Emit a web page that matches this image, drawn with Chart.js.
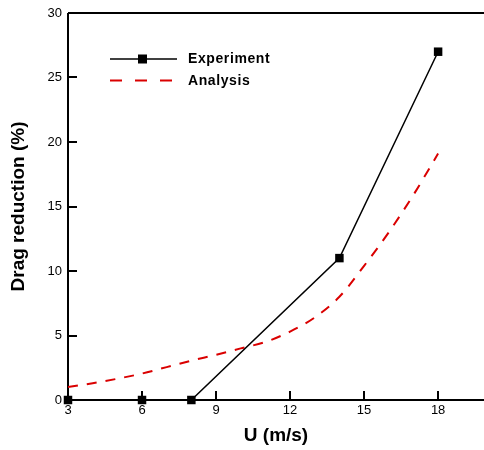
<!DOCTYPE html>
<html>
<head>
<meta charset="utf-8">
<script src="https://cdn.jsdelivr.net/npm/chart.js@4/dist/chart.umd.min.js"></script>
<style>
html,body{margin:0;padding:0;background:#fff;}
#wrap{width:484px;height:450px;position:relative;}
</style>
</head>
<body>
<div id="wrap"><canvas id="c"></canvas></div>
<script>
// Data
const expU = [3, 6, 8, 14, 18];
const expDR = [0, 0, 0, 11, 27];
const anaU = [3, 4, 5, 6, 7, 8, 9, 10, 11, 12, 13, 14, 15, 16, 17, 18];
const anaDR = [1.0, 1.3, 1.65, 2.05, 2.55, 3.05, 3.5, 4.0, 4.5, 5.3, 6.4, 8.0, 10.4, 13.0, 15.9, 19.1];
const xTicks = [3, 6, 9, 12, 15, 18];
const yTicks = [0, 5, 10, 15, 20, 25, 30];
const seriesNames = ['Experiment', 'Analysis'];
const xTitle = 'U (m/s)';
const yTitle = 'Drag reduction (%)';

const RED = 'rgb(218,0,0)';
const FONT = '"Liberation Sans", Arial, sans-serif';

const framePlugin = {
  id: 'frame',
  beforeDatasetsDraw(chart) {
    const {ctx, chartArea: a, scales: {x, y}} = chart;
    ctx.save();
    ctx.strokeStyle = '#000';
    ctx.lineWidth = 2;
    ctx.beginPath();
    ctx.moveTo(a.left, a.top); ctx.lineTo(a.left, a.bottom); ctx.lineTo(a.right, a.bottom);
    ctx.moveTo(a.left, a.top); ctx.lineTo(a.right, a.top);
    ctx.stroke();
    ctx.beginPath();
    yTicks.forEach(v => {
      if (v === 0 || v === 30) return;
      const py = Math.round(y.getPixelForValue(v));
      ctx.moveTo(a.left, py); ctx.lineTo(a.left + 9, py);
    });
    xTicks.forEach(v => {
      if (v === 3) return;
      const px = Math.round(x.getPixelForValue(v));
      ctx.moveTo(px, a.bottom); ctx.lineTo(px, a.bottom - 9);
    });
    ctx.stroke();
    ctx.restore();
  },
  afterDraw(chart) {
    const {ctx} = chart;
    ctx.save();
    // Experiment legend
    ctx.strokeStyle = '#000';
    ctx.lineWidth = 1.5;
    ctx.beginPath(); ctx.moveTo(110, 59); ctx.lineTo(177, 59); ctx.stroke();
    ctx.fillStyle = '#000';
    ctx.fillRect(138, 54.5, 9, 9);
    // Analysis legend
    ctx.strokeStyle = RED;
    ctx.lineWidth = 2;
    ctx.setLineDash([12, 13]);
    ctx.beginPath(); ctx.moveTo(110, 80.5); ctx.lineTo(173, 80.5); ctx.stroke();
    ctx.setLineDash([]);
    ctx.fillStyle = '#000';
    ctx.font = 'bold 14px ' + FONT;
    ctx.textBaseline = 'middle';
    ctx.textAlign = 'left';
    try { ctx.letterSpacing = '0.6px'; } catch(e) {}
    ctx.fillText(seriesNames[0], 188, 59);
    ctx.fillText(seriesNames[1], 188, 81);
    ctx.restore();
  }
};

new Chart(document.getElementById('c'), {
  type: 'scatter',
  data: {
    datasets: [
      {
        label: seriesNames[0],
        data: expU.map((u, i) => ({x: u, y: expDR[i]})),
        showLine: true,
        borderColor: '#000',
        backgroundColor: '#000',
        borderWidth: 1.5,
        pointStyle: 'rect',
        pointRadius: 6,
        pointBorderWidth: 0,
        pointBackgroundColor: '#000',
        clip: false,
        tension: 0
      },
      {
        label: seriesNames[1],
        data: anaU.map((u, i) => ({x: u, y: anaDR[i]})),
        showLine: true,
        borderColor: RED,
        borderWidth: 2,
        borderDash: [10, 9],
        pointRadius: 0,
        cubicInterpolationMode: 'monotone',
        clip: false
      }
    ]
  },
  options: {
    responsive: true,
    maintainAspectRatio: false,
    animation: false,
    devicePixelRatio: 1,
    layout: {autoPadding: false, padding: {top: 13, right: 0, left: 0, bottom: 0}},
    plugins: {legend: {display: false}, tooltip: {enabled: false}},
    scales: {
      x: {
        type: 'linear',
        min: 3,
        max: 19.86,
        afterFit(s) { s.height = 50; s.paddingLeft = 0; s.paddingRight = 0; },
        afterBuildTicks(s) { s.ticks = xTicks.map(v => ({value: v})); },
        grid: {display: false, drawTicks: false},
        border: {display: false},
        ticks: {color: '#000', font: {family: FONT, size: 13}, padding: 3, maxRotation: 0, autoSkip: false},
        title: {display: true, text: xTitle, color: '#000', font: {family: FONT, size: 19, weight: 'bold'}, padding: {top: 0, bottom: 3}}
      },
      y: {
        type: 'linear',
        min: 0,
        max: 30,
        afterFit(s) { s.width = 68; s.paddingTop = 0; s.paddingBottom = 0; },
        afterBuildTicks(s) { s.ticks = yTicks.map(v => ({value: v})); },
        grid: {display: false, drawTicks: false},
        border: {display: false},
        ticks: {color: '#000', font: {family: FONT, size: 13}, padding: 6, autoSkip: false},
        title: {display: true, text: yTitle, color: '#000', font: {family: FONT, size: 19, weight: 'bold'}, padding: {top: 7, bottom: 0}}
      }
    }
  },
  plugins: [framePlugin]
});
</script>
</body>
</html>
